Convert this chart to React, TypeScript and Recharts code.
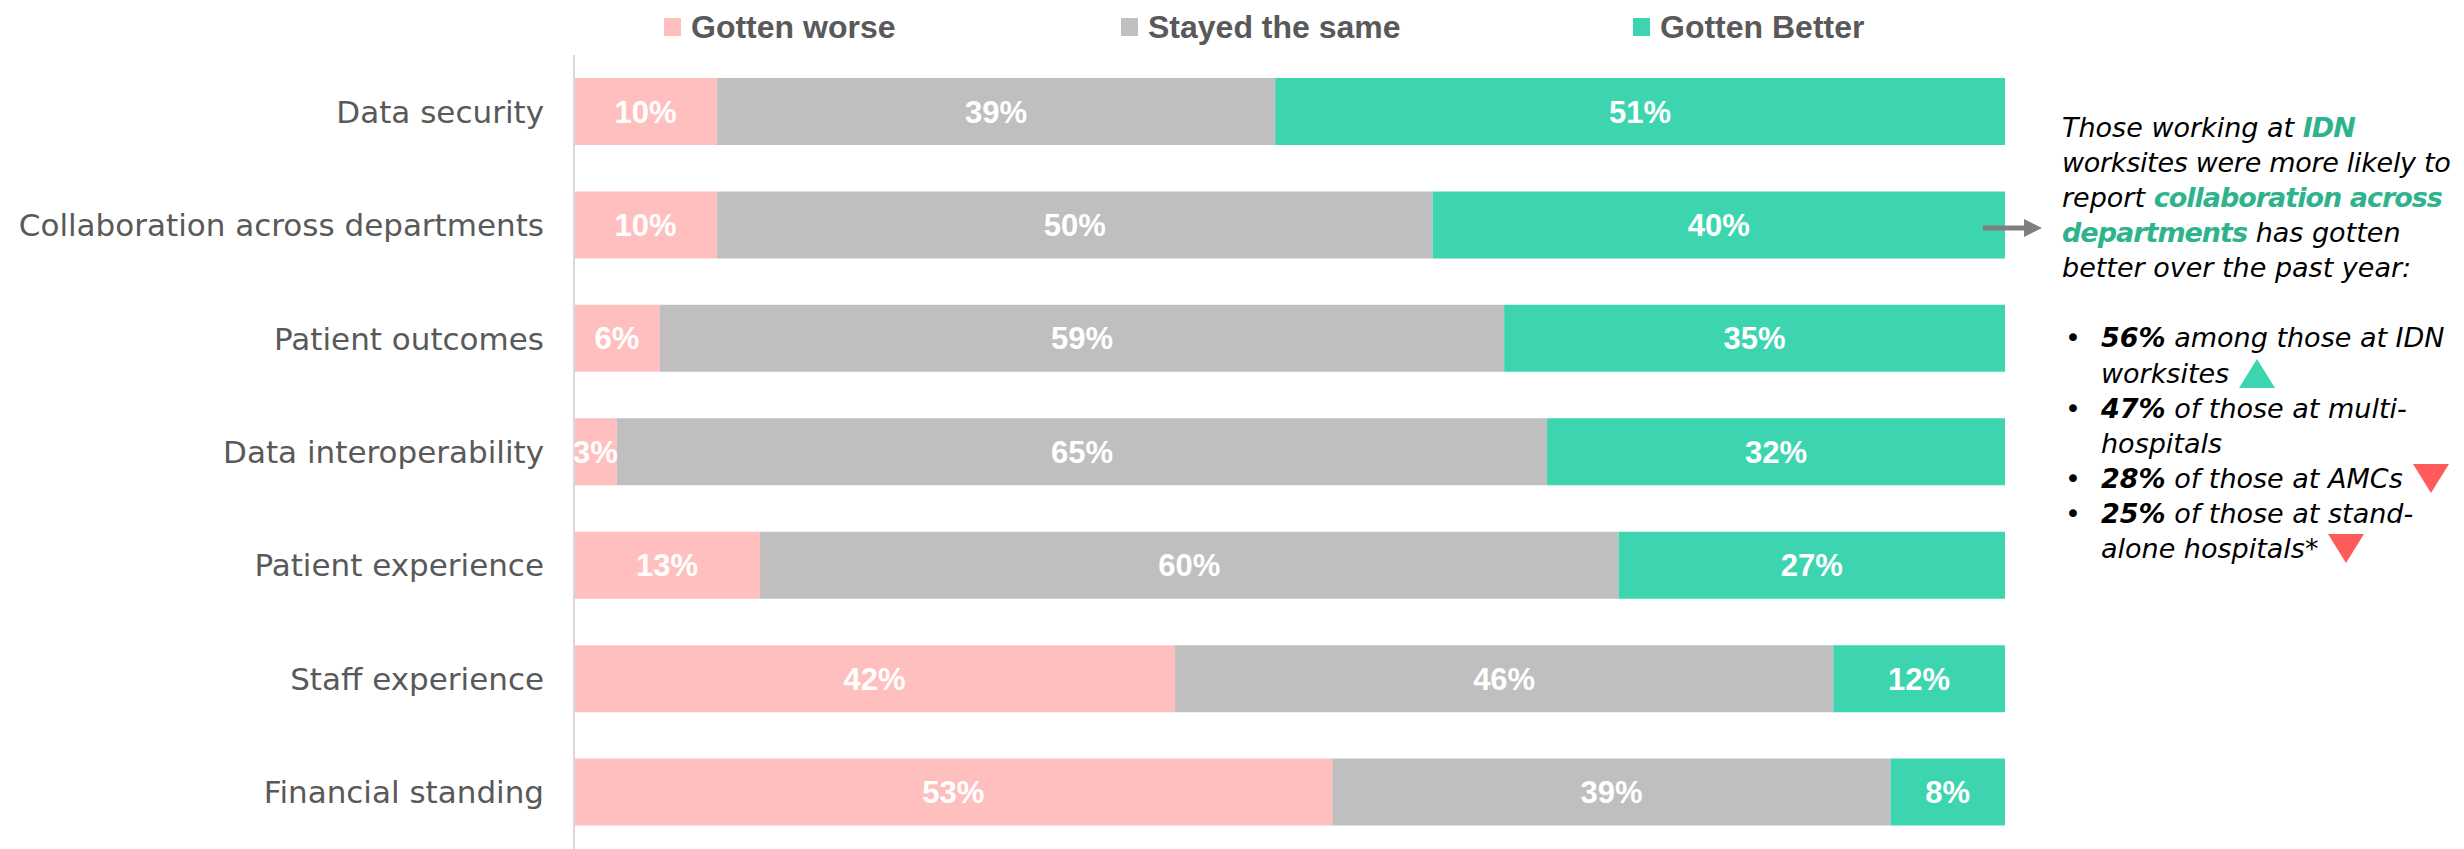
import { BarChart, Bar, XAxis, YAxis, LabelList } from "recharts";

const CATEGORIES = [
  "Data security",
  "Collaboration across departments",
  "Patient outcomes",
  "Data interoperability",
  "Patient experience",
  "Staff experience",
  "Financial standing",
];
const WORSE = [10, 10, 6, 3, 13, 42, 53];
const SAME = [39, 50, 59, 65, 60, 46, 39];
const BETTER = [51, 40, 35, 32, 27, 12, 8];

const SERIES = [
  { key: "worse", name: "Gotten worse", color: "#FFBFBF" },
  { key: "same", name: "Stayed the same", color: "#BFBFBF" },
  { key: "better", name: "Gotten Better", color: "#3DD5B0" },
];

const BULLETS = [
  { value: "56%", lines: [" among those at IDN", "worksites"], mark: "up" },
  { value: "47%", lines: [" of those at multi-", "hospitals"], mark: "" },
  { value: "28%", lines: [" of those at AMCs"], mark: "down" },
  { value: "25%", lines: [" of those at stand-", "alone hospitals*"], mark: "down" },
];

const data = CATEGORIES.map((name, i) => ({
  name,
  worse: WORSE[i],
  same: SAME[i],
  better: BETTER[i],
}));

const TEXT_FONT = "'Century Gothic', 'DejaVu Sans', sans-serif";
const BOLD_FONT = "'Century Gothic', 'Liberation Sans', Arial, sans-serif";
const LEGEND_LEFT = [664, 1121, 1633];
const GREEN_TEXT = { color: "#2FB38C", letterSpacing: -1 };

function Triangle({ dir }: { dir: string }) {
  const up = dir === "up";
  return (
    <svg width={36} height={29} style={{ marginLeft: 10, verticalAlign: -5 }}>
      <polygon
        points={up ? "18,0 36,29 0,29" : "0,0 36,0 18,29"}
        fill={up ? "#3DD5B0" : "#FF5B5B"}
      />
    </svg>
  );
}

export default function App() {
  return (
    <div style={{ position: "absolute", left: 0, top: 0, width: 2464, height: 849, background: "#fff", overflow: "hidden" }}>
      {/* legend */}
      {SERIES.map((s, i) => (
        <div key={s.key}>
          <div style={{ position: "absolute", left: LEGEND_LEFT[i], top: 18, width: 17, height: 18, background: s.color }} />
          <div
            style={{
              position: "absolute",
              left: LEGEND_LEFT[i] + 27,
              top: 11,
              lineHeight: "32px",
              fontSize: 32,
              fontWeight: 700,
              fontFamily: BOLD_FONT,
              color: "#595959",
              whiteSpace: "nowrap",
            }}
          >
            {s.name}
          </div>
        </div>
      ))}

      <BarChart
        width={2464}
        height={849}
        data={data}
        layout="vertical"
        margin={{ top: 55, right: 459, bottom: 0, left: 0 }}
      >
        <XAxis type="number" domain={[0, 100]} hide />
        <YAxis
          type="category"
          dataKey="name"
          width={574}
          tickLine={false}
          tickSize={0}
          tickMargin={30}
          axisLine={{ stroke: "#D9D9D9", strokeWidth: 2 }}
          tick={{ fontSize: 31, fill: "#595959", fontFamily: TEXT_FONT }}
          interval={0}
        />
        {SERIES.map((s) => (
          <Bar key={s.key} dataKey={s.key} name={s.name} stackId="a" fill={s.color} barSize={67} isAnimationActive={false}>
            <LabelList
              dataKey={s.key}
              position="center"
              formatter={(v: number) => `${v}%`}
              style={{ fill: "#fff", fontSize: 31, fontWeight: 700, fontFamily: BOLD_FONT }}
            />
          </Bar>
        ))}
      </BarChart>

      {/* arrow */}
      <svg style={{ position: "absolute", left: 1983, top: 219 }} width={60} height={18}>
        <rect x={0} y={6.5} width={44} height={5} fill="#7F7F7F" />
        <polygon points="41,0 59,9 41,18" fill="#7F7F7F" />
      </svg>

      {/* annotation */}
      <div
        style={{
          position: "absolute",
          left: 2062,
          top: 110,
          fontFamily: TEXT_FONT,
          fontStyle: "italic",
          fontSize: 27,
          lineHeight: "35.08px",
          color: "#000",
          whiteSpace: "nowrap",
        }}
      >
        <div>
          Those working at <b style={GREEN_TEXT}>IDN</b>
        </div>
        <div style={{ letterSpacing: -0.3 }}>worksites were more likely to</div>
        <div>
          report <b style={GREEN_TEXT}>collaboration across</b>
        </div>
        <div>
          <b style={GREEN_TEXT}>departments</b> has gotten
        </div>
        <div>better over the past year:</div>
        <div>&nbsp;</div>
        {BULLETS.map((b) => (
          <div key={b.value} style={{ display: "flex" }}>
            <span style={{ width: 36, fontStyle: "normal", paddingLeft: 3 }}>•</span>
            <div>
              {b.lines.map((ln, j) => (
                <div key={j}>
                  {j === 0 && <b>{b.value}</b>}
                  {ln}
                  {j === b.lines.length - 1 && b.mark && <Triangle dir={b.mark} />}
                </div>
              ))}
            </div>
          </div>
        ))}
      </div>
    </div>
  );
}
